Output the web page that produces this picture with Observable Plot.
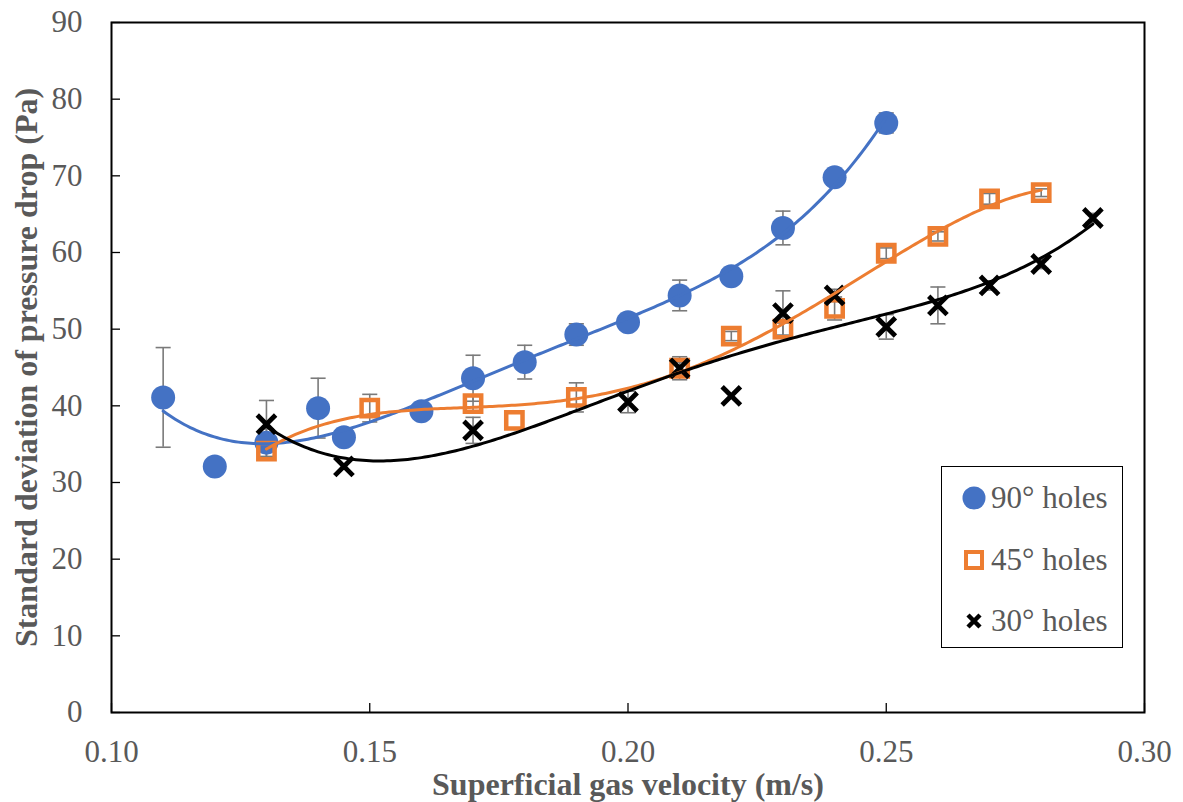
<!DOCTYPE html>
<html>
<head>
<meta charset="utf-8">
<script src="https://cdn.jsdelivr.net/npm/d3@7"></script>
<script src="https://cdn.jsdelivr.net/npm/@observablehq/plot@0.6"></script>
<style>
  html, body { margin: 0; padding: 0; background: #fff; }
  #wrap { position: relative; width: 1183px; height: 802px; }
  #legend {
    position: absolute; left: 941px; top: 466px; width: 180px; height: 180px;
    border: 1.5px solid #000; background: #fff;
    font-family: "Liberation Serif", "Times New Roman", serif; font-size: 31px; color: #595959;
  }
  #legend .row { position: absolute; left: 0; height: 40px; }
  #legend svg { position: absolute; left: 20px; top: 8px; }
  #legend span { position: absolute; left: 49px; top: 1px; white-space: nowrap; line-height: 38px; }
</style>
</head>
<body>
<div id="wrap">
  <div id="chart"></div>
  <div id="legend"></div>
</div>
<script>
// Superficial gas velocity (m/s), standard deviation of pressure drop (Pa) and error half-widths
const x90 = [0.11, 0.12, 0.13, 0.14, 0.145, 0.16, 0.17, 0.18, 0.19, 0.20, 0.21, 0.22, 0.23, 0.24, 0.25];
const y90 = [41.1, 32.1, 35.2, 39.7, 35.9, 39.3, 43.6, 45.7, 49.3, 50.9, 54.4, 56.9, 63.2, 69.8, 76.9];
const e90 = [6.5, 0.8, 1.8, 3.9, 0.8, 0.8, 3.0, 2.2, 1.4, 1.0, 2.0, 1.0, 2.2, 1.0, 1.3];

const x45 = [0.13, 0.15, 0.17, 0.178, 0.19, 0.21, 0.22, 0.23, 0.24, 0.25, 0.26, 0.27, 0.28];
const y45 = [34.1, 39.7, 40.3, 38.1, 41.1, 44.9, 49.1, 50.0, 52.7, 59.9, 62.1, 67.0, 67.8];
const e45 = [0.8, 1.8, 1.0, 0, 1.9, 1.5, 0.6, 0.8, 1.5, 0.7, 0.6, 0.7, 0.5];

const x30 = [0.13, 0.145, 0.17, 0.20, 0.21, 0.22, 0.23, 0.24, 0.25, 0.26, 0.27, 0.28, 0.29];
const y30 = [37.6, 32.1, 36.8, 40.5, 44.9, 41.3, 52.1, 54.4, 50.3, 53.1, 55.7, 58.5, 64.5];
const e30 = [3.1, 0, 1.7, 1.4, 0.8, 0, 2.9, 0.8, 1.6, 2.4, 0.6, 0.6, 0.6];

const seriesNames = ["90° holes", "45° holes", "30° holes"];
const seriesColors = ["#4472C4", "#ED7D31", "#000000"];
const trendOrders = [4, 4, 4];

const xTicks = [0.10, 0.15, 0.20, 0.25, 0.30];
const yTicks = [0, 10, 20, 30, 40, 50, 60, 70, 80, 90];
const xLabel = "Superficial gas velocity (m/s)";
const yLabel = "Standard deviation of pressure drop (Pa)";

const toRows = (xs, ys, es, name) => xs.map((x, i) => ({x, y: ys[i], e: es[i], name}));
const d90 = toRows(x90, y90, e90, seriesNames[0]);
const d45 = toRows(x45, y45, e45, seriesNames[1]);
const d30 = toRows(x30, y30, e30, seriesNames[2]);

// Least-squares polynomial trendline (x centred/scaled for stability)
function polyTrend(rows, order, steps = 240) {
  const n = order + 1;
  const t = x => (x - 0.2) * 10;
  const M = Array.from({length: n}, () => new Array(n + 1).fill(0));
  for (const {x, y} of rows) {
    const p = Array.from({length: 2 * n}, (_, k) => Math.pow(t(x), k));
    for (let r = 0; r < n; r++) {
      for (let c = 0; c < n; c++) M[r][c] += p[r + c];
      M[r][n] += p[r] * y;
    }
  }
  for (let i = 0; i < n; i++) {
    let piv = i;
    for (let r = i + 1; r < n; r++) if (Math.abs(M[r][i]) > Math.abs(M[piv][i])) piv = r;
    [M[i], M[piv]] = [M[piv], M[i]];
    for (let r = 0; r < n; r++) {
      if (r === i) continue;
      const f = M[r][i] / M[i][i];
      for (let c = i; c <= n; c++) M[r][c] -= f * M[i][c];
    }
  }
  const coef = M.map((row, i) => row[n] / row[i]);
  const [x0, x1] = d3.extent(rows, d => d.x);
  return d3.range(steps + 1).map(i => {
    const x = x0 + (x1 - x0) * i / steps;
    const y = coef.reduce((s, a, k) => s + a * Math.pow(t(x), k), 0);
    return {x, y};
  });
}

// Horizontal cap for the error bars
const capSymbol = {draw(ctx, size) { const w = Math.sqrt(size) / 2; ctx.moveTo(-w, 0); ctx.lineTo(w, 0); }};

const errRows = [...d90, ...d45, ...d30].filter(d => d.e > 0);
const errColor = "#7a7a7a";

const font = "'Liberation Serif', 'Times New Roman', serif";

const chart = Plot.plot({
  width: 1183,
  height: 802,
  marginLeft: 111,
  marginRight: 39,
  marginTop: 22,
  marginBottom: 90,
  style: {fontFamily: font, background: "#fff", overflow: "visible"},
  x: {domain: [0.10, 0.30]},
  y: {domain: [0, 90]},
  marks: [
    // tick labels
    Plot.axisX(xTicks, {tickSize: 0, tickPadding: 27, tickFormat: d3.format(".2f"), fontSize: 31, fill: "#595959", label: null}),
    Plot.axisY(yTicks, {tickSize: 0, tickPadding: 29, fontSize: 31, fill: "#595959", label: null}),
    // inward tick marks
    Plot.axisX(xTicks, {tickSize: 9, dy: -9, tickFormat: () => "", stroke: "#000", strokeWidth: 1.3, label: null}),
    Plot.axisY(yTicks, {tickSize: 9, dx: 9, tickFormat: () => "", stroke: "#000", strokeWidth: 1.3, label: null}),
    // axis titles
    Plot.text([xLabel], {frameAnchor: "bottom", dy: 72, textAnchor: "middle", lineAnchor: "middle", fontSize: 32, fontWeight: "bold", fill: "#595959"}),
    Plot.text([yLabel], {frameAnchor: "left", dx: -85, rotate: -90, textAnchor: "middle", lineAnchor: "middle", fontSize: 32, fontWeight: "bold", fill: "#595959"}),
    // error bars
    Plot.ruleX(errRows, {x: "x", y1: d => d.y - d.e, y2: d => d.y + d.e, stroke: errColor, strokeWidth: 1.6}),
    Plot.dot(errRows, {x: "x", y: d => d.y - d.e, symbol: capSymbol, r: 8.5, stroke: errColor, strokeWidth: 1.6, fill: "none"}),
    Plot.dot(errRows, {x: "x", y: d => d.y + d.e, symbol: capSymbol, r: 8.5, stroke: errColor, strokeWidth: 1.6, fill: "none"}),
    // markers
    Plot.dot(d90, {x: "x", y: "y", r: 12, fill: seriesColors[0], stroke: "none", symbol: "circle"}),
    Plot.dot(d45, {x: "x", y: "y", r: 9.2, symbol: "square", fill: "none", stroke: seriesColors[1], strokeWidth: 4.5}),
    Plot.dot(d30, {x: "x", y: "y", r: 8.4, symbol: "times", stroke: seriesColors[2], strokeWidth: 4.8}),
    // polynomial trendlines
    Plot.line(polyTrend(d90, trendOrders[0]), {x: "x", y: "y", stroke: seriesColors[0], strokeWidth: 3}),
    Plot.line(polyTrend(d45, trendOrders[1]), {x: "x", y: "y", stroke: seriesColors[1], strokeWidth: 3}),
    Plot.line(polyTrend(d30, trendOrders[2]), {x: "x", y: "y", stroke: seriesColors[2], strokeWidth: 3}),
    Plot.frame({stroke: "#000", strokeWidth: 2})
  ]
});
document.getElementById("chart").appendChild(chart);

// Legend
const legendIcons = [
  `<circle cx="12" cy="12" r="11.5" fill="${seriesColors[0]}"/>`,
  `<rect x="4" y="4" width="16" height="16" fill="none" stroke="${seriesColors[1]}" stroke-width="4"/>`,
  `<path d="M6,6L18,18M18,6L6,18" stroke="${seriesColors[2]}" stroke-width="4.5"/>`
];
const legend = document.getElementById("legend");
seriesNames.forEach((name, i) => {
  const row = document.createElement("div");
  row.className = "row";
  row.style.top = (11 + i * 61.5) + "px";
  row.style.width = "180px";
  row.innerHTML = `<svg width="24" height="24" viewBox="0 0 24 24">${legendIcons[i]}</svg><span>${name}</span>`;
  legend.appendChild(row);
});
</script>
</body>
</html>
